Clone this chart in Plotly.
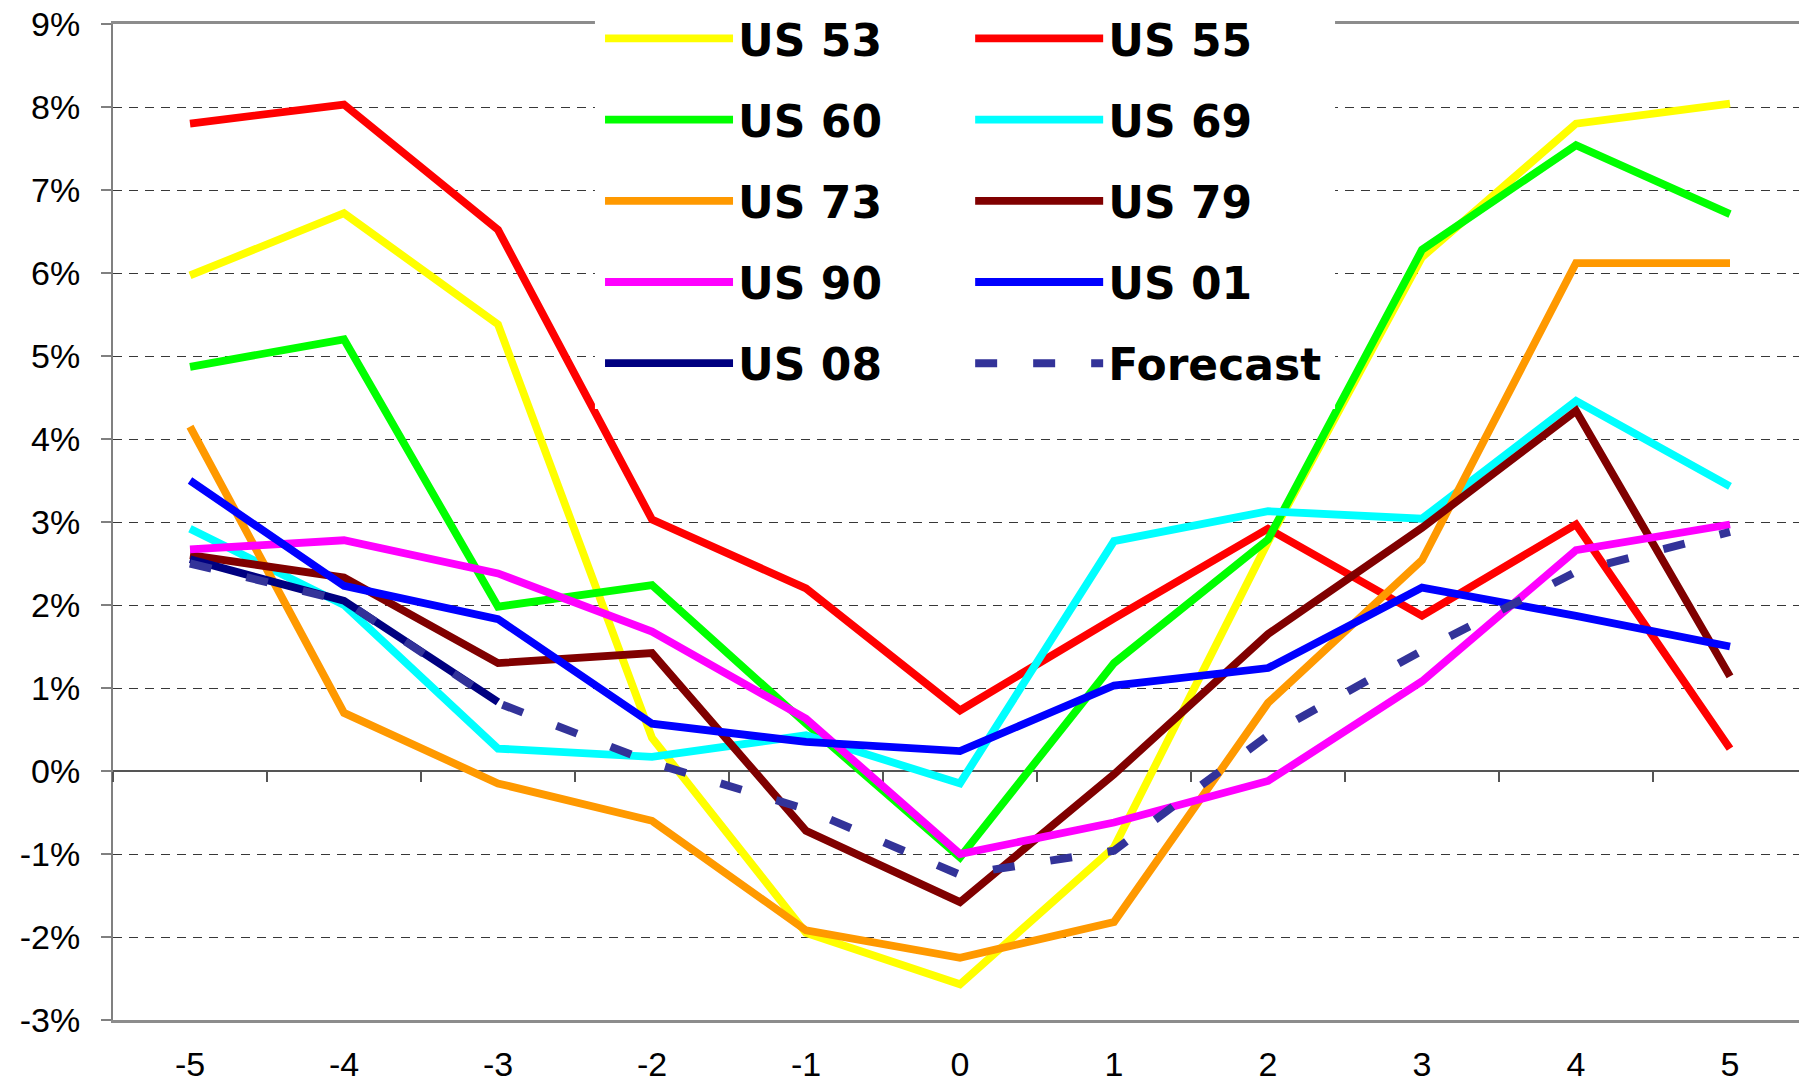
import plotly.graph_objects as go

# ---------------- data ----------------
categories = ['-5', '-4', '-3', '-2', '-1', '0', '1', '2', '3', '4', '5']

us53 = [5.97, 6.72, 5.38, 0.40, -1.95, -2.57, -0.92, 2.76, 6.19, 7.80, 8.04]
us55 = [7.80, 8.03, 6.52, 3.03, 2.20, 0.73, 1.84, 2.92, 1.87, 2.97, 0.27]
us60 = [4.87, 5.20, 1.98, 2.24, 0.57, -1.04, 1.30, 2.79, 6.28, 7.54, 6.71]
us69 = [2.92, 2.00, 0.27, 0.17, 0.43, -0.15, 2.77, 3.13, 3.04, 4.46, 3.43]
us73 = [4.15, 0.70, -0.15, -0.60, -1.92, -2.25, -1.82, 0.82, 2.54, 6.12, 6.12]
us79 = [2.60, 2.33, 1.30, 1.42, -0.72, -1.58, -0.04, 1.65, 2.93, 4.34, 1.14]
us90 = [2.67, 2.78, 2.38, 1.68, 0.63, -1.00, -0.62, -0.12, 1.08, 2.66, 2.97]
us01 = [3.50, 2.23, 1.83, 0.57, 0.35, 0.24, 1.03, 1.24, 2.21, 1.87, 1.50]
us08 = [2.55, 2.05, 0.83, None, None, None, None, None, None, None, None]
forecast = [2.50, 2.05, 0.82, 0.10, -0.46, -1.25, -0.96, 0.43, 1.45, 2.40, 2.88]

y_tick_values = [-3, -2, -1, 0, 1, 2, 3, 4, 5, 6, 7, 8, 9]
y_tick_labels = ['-3%', '-2%', '-1%', '0%', '1%', '2%', '3%', '4%', '5%', '6%', '7%', '8%', '9%']

series_names = ['US 53', 'US 55', 'US 60', 'US 69', 'US 73', 'US 79', 'US 90', 'US 01', 'US 08', 'Forecast']
series_values = [us53, us55, us60, us69, us73, us79, us90, us01, us08, forecast]

# ---------------- styles ----------------
colors = ['#FFFF00', '#FF0000', '#00FF00', '#00FFFF', '#FF9900',
          '#800000', '#FF00FF', '#0000FF', '#000080', '#333399']
legend_ids = ['legend', 'legend2', 'legend', 'legend2', 'legend',
              'legend2', 'legend', 'legend2', 'legend', 'legend2']

fig = go.Figure()
for name, vals, col, lg in zip(series_names, series_values, colors, legend_ids):
    is_fc = name == 'Forecast'
    fig.add_trace(go.Scatter(
        x=categories, y=vals, name=name, mode='lines',
        line=dict(color=col, width=8 if is_fc else 7.8,
                  dash='22px,36px' if is_fc else 'solid'),
        legend=lg, legendgroup=name,
        connectgaps=False,
    ))

# invisible helper trace for the zero-line tick axis
fig.add_trace(go.Scatter(x=categories, y=[None] * len(categories), xaxis='x2',
                         showlegend=False, hoverinfo='skip', mode='lines'))

tick_font = dict(family='Liberation Sans, Arial', size=34, color='black')
legend_font = dict(family='DejaVu Sans', size=44, color='black', weight='bold')

fig.update_layout(
    width=1799, height=1074,
    margin=dict(l=105, r=0, t=16, b=62, autoexpand=False),
    paper_bgcolor='white', plot_bgcolor='white',
    showlegend=True,
    xaxis=dict(
        type='category', range=[-0.5, len(categories) - 0.5],
        showgrid=False, zeroline=False,
        showline=True, linecolor='#8c8c8c', linewidth=2.5, mirror=True,
        ticks='', tickfont=tick_font, ticklabelstandoff=12,
        ticklabeloverflow='allow',
        layer='below traces',
    ),
    xaxis2=dict(
        type='category', overlaying='x', anchor='free', position=0.25,
        range=[-0.5, len(categories) - 0.5],
        showgrid=False, zeroline=False,
        showline=True, linecolor='#555555', linewidth=2,
        ticks='outside', tickson='boundaries', ticklen=10, tickwidth=1.5,
        tickcolor='#555555', showticklabels=False,
        layer='below traces',
    ),
    yaxis=dict(
        range=[-3, 9], tickvals=y_tick_values, ticktext=y_tick_labels,
        showgrid=True, gridcolor='#383838', gridwidth=1, griddash='9px,7px',
        zeroline=False,
        showline=True, linecolor='#808080', linewidth=2,
        ticks='outside', ticklen=10, tickwidth=1.5, tickcolor='#808080',
        tickfont=tick_font, ticklabelstandoff=14,
        ticklabeloverflow='allow',
        layer='below traces',
    ),
    legend=dict(x=0.2875, y=1.0208, xanchor='left', yanchor='top',
                bgcolor='rgba(0,0,0,0)', font=legend_font,
                itemwidth=128, traceorder='grouped', tracegroupgap=21),
    legend2=dict(x=0.506, y=1.0208, xanchor='left', yanchor='top',
                 bgcolor='rgba(0,0,0,0)', font=legend_font,
                 itemwidth=128, traceorder='grouped', tracegroupgap=21),
    shapes=[dict(type='rect', xref='paper', yref='paper',
                 x0=0.2845, x1=0.7214, y0=0.6135, y1=1.05,
                 fillcolor='white', line=dict(width=0), layer='above')],
)

fig.write_html('out.html')
